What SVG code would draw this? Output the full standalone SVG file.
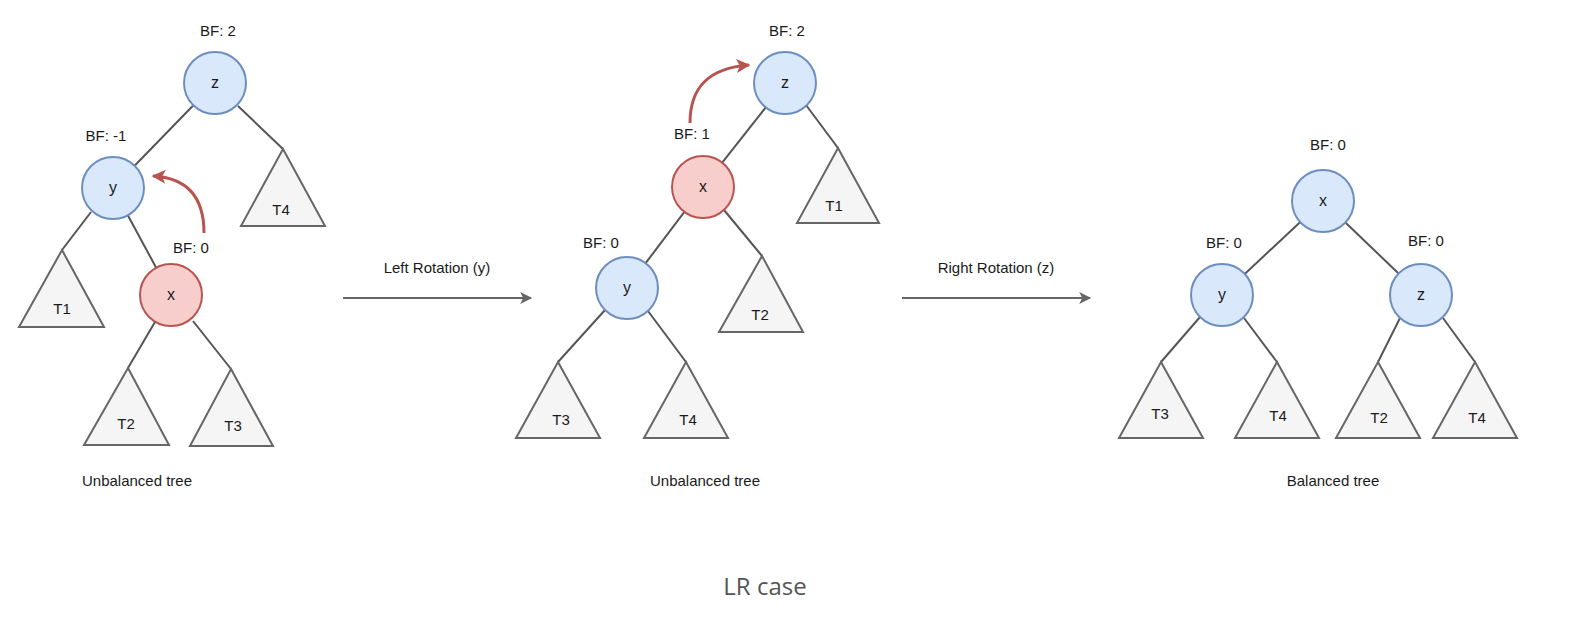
<svg xmlns="http://www.w3.org/2000/svg" width="1576" height="626" viewBox="0 0 1576 626">
<style>
text{font-family:"Liberation Sans",Arial,sans-serif;font-size:15px;fill:#1a1a1a;text-anchor:middle}
.nl{font-size:16px}
.blue{fill:#dae8fc;stroke:#6c8ebf;stroke-width:2}
.red{fill:#f8cecc;stroke:#b85450;stroke-width:2}
.tri{fill:#f5f5f5;stroke:#666666;stroke-width:2;stroke-linejoin:miter}
.edge{stroke:#555555;stroke-width:2;fill:none}
.rot{stroke:#b85450;stroke-width:3;fill:none}
.main{stroke:#666666;stroke-width:2;fill:none}
.cap{font-family:"Open Sans","Noto Sans",sans-serif;font-size:24px;fill:#555555}
</style>
<defs>
<marker id="ah" viewBox="0 0 10 10" refX="9" refY="5" markerWidth="13" markerHeight="12" orient="auto" markerUnits="userSpaceOnUse">
<path d="M0,0 L10,5 L0,10 L2.5,5 Z" fill="#666666"/>
</marker>
<marker id="ahr" viewBox="0 0 10 10" refX="9" refY="5" markerWidth="16" markerHeight="14" orient="auto" markerUnits="userSpaceOnUse">
<path d="M0,0 L10,5 L0,10 L2.5,5 Z" fill="#b85450"/>
</marker>
</defs>
<rect width="1576" height="626" fill="#ffffff"/>

<g id="connectors">
<!-- tree 1 -->
<line class="edge" x1="193.4" y1="105.2" x2="134.6" y2="165.8"/>
<line class="edge" x1="238" y1="106" x2="283" y2="149"/>
<line class="edge" x1="91" y1="212" x2="62" y2="250"/>
<line class="edge" x1="127.8" y1="215.2" x2="156.2" y2="267.8"/>
<line class="edge" x1="155" y1="322" x2="128" y2="368"/>
<line class="edge" x1="193" y1="321" x2="231" y2="369"/>
<path class="rot" d="M204,233 C204,200 190,178 153,176" marker-end="url(#ahr)"/>
<!-- tree 2 -->
<line class="edge" x1="765.8" y1="107.3" x2="722.2" y2="162.7"/>
<line class="edge" x1="806" y1="105" x2="838" y2="148"/>
<line class="edge" x1="684.4" y1="211.8" x2="645.6" y2="263.2"/>
<line class="edge" x1="724" y1="210" x2="762" y2="256"/>
<line class="edge" x1="605" y1="310" x2="558" y2="362"/>
<line class="edge" x1="648" y1="311" x2="686" y2="362"/>
<path class="rot" d="M690,123 C690,88 708,68 749,65" marker-end="url(#ahr)"/>
<!-- tree 3 -->
<line class="edge" x1="1300.3" y1="222.1" x2="1244.7" y2="273.9"/>
<line class="edge" x1="1345.4" y1="222.5" x2="1398.6" y2="273.5"/>
<line class="edge" x1="1200" y1="317" x2="1161" y2="362"/>
<line class="edge" x1="1244" y1="318" x2="1277" y2="362"/>
<line class="edge" x1="1400" y1="318" x2="1378" y2="362"/>
<line class="edge" x1="1443" y1="318" x2="1475" y2="362"/>
<!-- rotation arrows -->
<line class="main" x1="343" y1="298" x2="531" y2="298" marker-end="url(#ah)"/>
<line class="main" x1="902" y1="298" x2="1090" y2="298" marker-end="url(#ah)"/>
</g>

<!-- Tree 1 -->
<g id="t1-z"><circle class="blue" cx="215" cy="83" r="31"/><text class="nl" x="215" y="88">z</text></g>
<g id="t1-y"><circle class="blue" cx="113" cy="188" r="31"/><text class="nl" x="113" y="193">y</text></g>
<g id="t1-x"><circle class="red" cx="171" cy="295" r="31"/><text class="nl" x="171" y="300">x</text></g>
<g id="t1-T1"><polygon class="tri" points="62,250 104,327 19,327"/><text x="62" y="314">T1</text></g>
<g id="t1-T4"><polygon class="tri" points="283,149 325,226 241,226"/><text x="281" y="215">T4</text></g>
<g id="t1-T2"><polygon class="tri" points="128,368 169,445 84,445"/><text x="126" y="429">T2</text></g>
<g id="t1-T3"><polygon class="tri" points="231,369 273,446 190,446"/><text x="233" y="431">T3</text></g>
<g id="t1-labels">
<text x="218" y="36">BF: 2</text>
<text x="106" y="141">BF: -1</text>
<text x="191" y="253">BF: 0</text>
<text x="137" y="486">Unbalanced tree</text>
</g>

<!-- arrow labels -->
<g id="lbl-left"><text x="437" y="273">Left Rotation (y)</text></g>
<g id="lbl-right"><text x="996" y="273">Right Rotation (z)</text></g>

<!-- Tree 2 -->
<g id="t2-z"><circle class="blue" cx="785" cy="83" r="31"/><text class="nl" x="785" y="88">z</text></g>
<g id="t2-x"><circle class="red" cx="703" cy="187" r="31"/><text class="nl" x="703" y="192">x</text></g>
<g id="t2-y"><circle class="blue" cx="627" cy="288" r="31"/><text class="nl" x="627" y="293">y</text></g>
<g id="t2-T1"><polygon class="tri" points="838,148 879,223 797,223"/><text x="834" y="211">T1</text></g>
<g id="t2-T2"><polygon class="tri" points="762,256 803,332 719,332"/><text x="760" y="320">T2</text></g>
<g id="t2-T3"><polygon class="tri" points="558,362 600,438 516,438"/><text x="561" y="425">T3</text></g>
<g id="t2-T4"><polygon class="tri" points="686,362 728,438 644,438"/><text x="688" y="425">T4</text></g>
<g id="t2-labels">
<text x="787" y="36">BF: 2</text>
<text x="692" y="139">BF: 1</text>
<text x="601" y="248">BF: 0</text>
<text x="705" y="486">Unbalanced tree</text>
</g>

<!-- Tree 3 -->
<g id="t3-x"><circle class="blue" cx="1323" cy="201" r="31"/><text class="nl" x="1323" y="206">x</text></g>
<g id="t3-y"><circle class="blue" cx="1222" cy="295" r="31"/><text class="nl" x="1222" y="300">y</text></g>
<g id="t3-z"><circle class="blue" cx="1421" cy="295" r="31"/><text class="nl" x="1421" y="300">z</text></g>
<g id="t3-T3"><polygon class="tri" points="1161,362 1203,438 1119,438"/><text x="1160" y="419">T3</text></g>
<g id="t3-T4a"><polygon class="tri" points="1277,362 1319,438 1235,438"/><text x="1278" y="421">T4</text></g>
<g id="t3-T2"><polygon class="tri" points="1378,362 1420,438 1336,438"/><text x="1379" y="423">T2</text></g>
<g id="t3-T4b"><polygon class="tri" points="1475,362 1517,438 1433,438"/><text x="1477" y="423">T4</text></g>
<g id="t3-labels">
<text x="1328" y="150">BF: 0</text>
<text x="1224" y="248">BF: 0</text>
<text x="1426" y="246">BF: 0</text>
<text x="1333" y="486">Balanced tree</text>
</g>

<g id="caption"><text class="cap" x="765" y="595">LR case</text></g>
</svg>
